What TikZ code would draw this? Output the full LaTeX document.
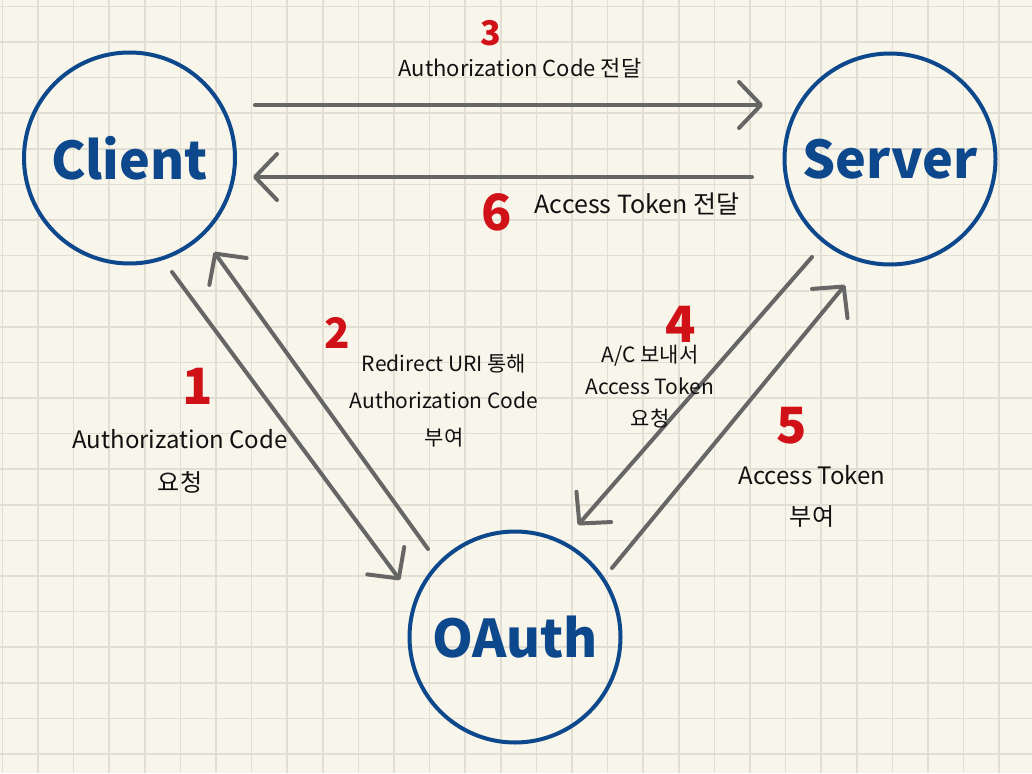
\documentclass[tikz,border=0pt]{standalone}
\usepackage{fontspec}
\newfontfamily\kr{Noto Sans CJK KR}
\usetikzlibrary{arrows.meta}
\definecolor{paper}{RGB}{248,245,234}
\definecolor{gridc}{RGB}{226,222,211}
\definecolor{nodeblue}{RGB}{14,72,140}
\definecolor{arrgray}{RGB}{102,102,102}
\definecolor{numred}{RGB}{208,18,24}
\definecolor{ink}{RGB}{17,17,17}
\tikzset{
  party/.style={circle, draw=nodeblue, line width=4pt, minimum size=211pt, inner sep=0pt,
    text=nodeblue, font=\kr\bfseries\fontsize{52}{60}\selectfont},
  flow/.style={draw=arrgray, line width=4pt, line cap=round,
    -{Straight Barb[length=22pt,width=46pt,round]}},
  num/.style={text=numred, inner sep=0pt, font=\kr\bfseries\fontsize{50}{52}\selectfont},
  lbl/.style={text=ink, align=center, inner sep=0pt},
  gridline/.style={draw=gridc, line width=1.5pt}
}
\begin{document}
\begin{tikzpicture}[x=1pt,y=-1pt]
\fill[paper] (0,0) rectangle (1032,773);
\useasboundingbox (0,0) rectangle (1032,773);
\foreach \i in {0,...,28} {\draw[gridline] ({2.4+35.6*\i},0) -- ({2.4+35.6*\i},773);}
\foreach \j in {0,...,21} {\draw[gridline] (0,{6.4+35.6*\j}) -- (1032,{6.4+35.6*\j});}

% parties
\node[party] (client) at (129.5,158) {Client};
\node[party] (server) at (890,159) {Server};
\node[party] (oauth) at (515,637) {OAuth};

% connector end points
\coordinate (s3) at (255,105);  \coordinate (e3) at (763,105);
\coordinate (s6) at (752,177);  \coordinate (e6) at (253,177);
\coordinate (s1) at (172,272);  \coordinate (e1) at (400,580);
\coordinate (s2) at (428,549);  \coordinate (e2) at (214,252);
\coordinate (s4) at (812,257);  \coordinate (e4) at (578,525);
\coordinate (s5) at (612,568);  \coordinate (e5) at (845,285);

\draw[flow] (s3) -- (e3);
\draw[flow] (s6) -- (e6);
\draw[flow] (s1) -- (e1);
\draw[flow] (s2) -- (e2);
\draw[flow] (s4) -- (e4);
\draw[flow] (s5) -- (e5);

% step numbers
\node[num, font=\kr\bfseries\fontsize{34}{36}\selectfont] (n3) at (491,33) {3};
\node[num] (n6) at (497,212) {6};
\node[num, font=\kr\bfseries\fontsize{42}{44}\selectfont] (n2) at (337,333) {2};
\node[num] (n1) at (198,386) {1};
\node[num] (n4) at (681,324) {4};
\node[num] (n5) at (792,426) {5};

% labels
\node[lbl, font=\kr\fontsize{22}{26}\selectfont] (t3) at (520,68) {Authorization Code 전달};
\node[lbl, font=\kr\fontsize{25}{28}\selectfont] (t6) at (637,204) {Access Token 전달};
\node[lbl, font=\kr\fontsize{21}{37}\selectfont] (t2) at (444,401) {Redirect URI 통해\\Authorization Code\\부여};
\node[lbl, font=\kr\fontsize{24}{43}\selectfont] (t1) at (180,461) {Authorization Code\\요청};
\node[lbl, font=\kr\fontsize{21}{32}\selectfont] (t4) at (650,387) {A/C 보내서\\Access Token\\요청};
\node[lbl, font=\kr\fontsize{24}{41}\selectfont] (t5) at (812,496) {Access Token\\부여};
\end{tikzpicture}
\end{document}
